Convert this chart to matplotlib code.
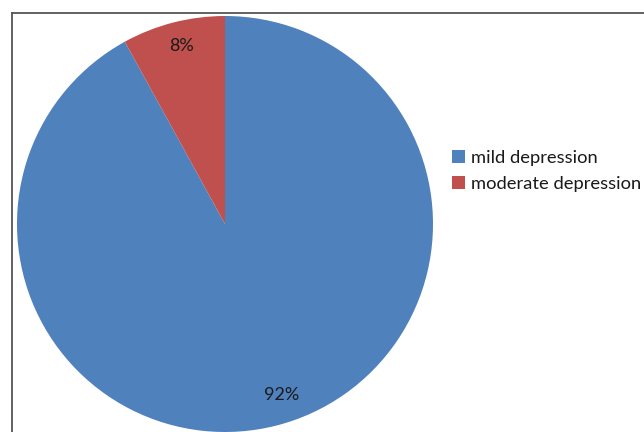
import matplotlib
matplotlib.use("Agg")
import matplotlib.pyplot as plt
from matplotlib.lines import Line2D

categories = ["mild depression", "moderate depression"]
values = [92, 8]
colors = ["#4F81BD", "#C0504D"]

W, H = 644, 432
fig = plt.figure(figsize=(W / 100, H / 100), dpi=100)
fig.patch.set_facecolor("white")

cx, cy, r = 225, 224, 208
ax = fig.add_axes([(cx - r) / W, (H - cy - r) / H, 2 * r / W, 2 * r / H])
wedges, texts, autotexts = ax.pie(
    values, colors=colors, startangle=90, counterclock=False,
    autopct=lambda p: f"{p:.0f}%", pctdistance=0.86, radius=1,
    textprops=dict(fontsize=13, color="#1a1a1a", family="Lato"),
    wedgeprops=dict(linewidth=0),
)
autotexts[0].set_position((0.27, -0.82))
autotexts[1].set_position((-0.21, 0.855))
ax.set_xlim(-1, 1)
ax.set_ylim(-1, 1)
ax.set_aspect("auto")
ax.axis("off")

leg = fig.legend(
    wedges, categories, loc="upper left",
    bbox_to_anchor=(452 / W, 1 - 150 / H), frameon=False,
    prop=dict(family="Lato", size=13.2), handlelength=0.7, handleheight=0.7,
    handletextpad=0.35, labelspacing=0.55, borderaxespad=0, borderpad=0,
)
for t in leg.get_texts():
    t.set_color("#1a1a1a")

# outer frame
fig.add_artist(Line2D([11.5 / W, 11.5 / W], [0, 1 - 13 / H], transform=fig.transFigure,
                      color="#555555", linewidth=1.3))
fig.add_artist(Line2D([11.5 / W, 1], [1 - 13 / H, 1 - 13 / H], transform=fig.transFigure,
                      color="#555555", linewidth=1.3))

fig.savefig("out.png", dpi=100)
